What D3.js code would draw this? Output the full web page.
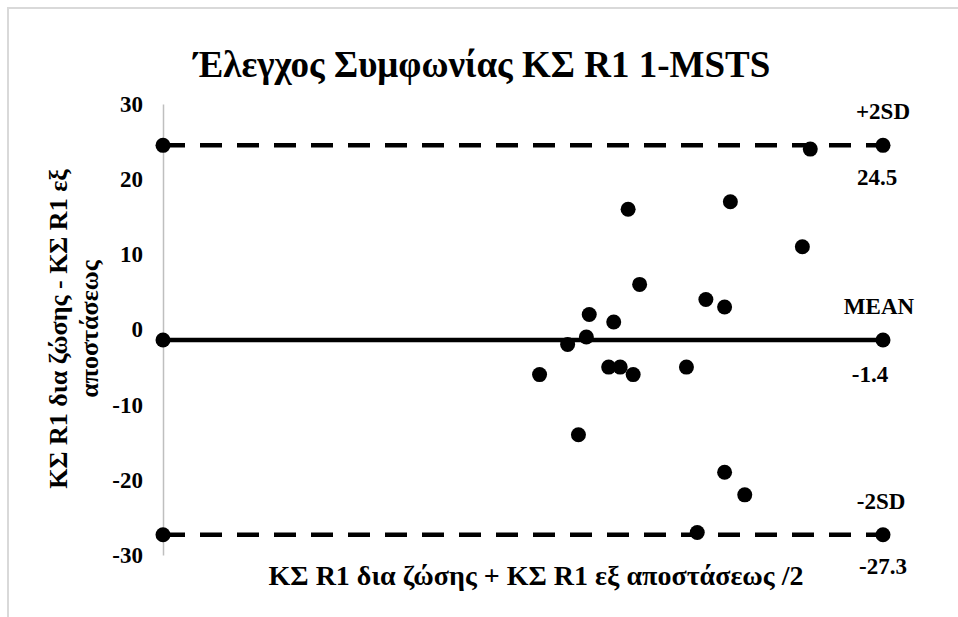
<!DOCTYPE html>
<html>
<head>
<meta charset="utf-8">
<script src="https://cdn.jsdelivr.net/npm/d3@7/dist/d3.min.js"></script>
<style>
  html, body { margin: 0; padding: 0; background: #fff; }
  svg text { font-family: "Liberation Serif", "Times New Roman", serif; font-weight: bold; fill: #000; }
</style>
</head>
<body>
<svg id="chart" width="958" height="617"></svg>
<script>
// ---- data ----
const title = "Έλεγχος Συμφωνίας ΚΣ R1 1-MSTS";
const xTitle = "ΚΣ R1 δια ζώσης + ΚΣ R1 εξ αποστάσεως /2";
const yTitleLines = ["ΚΣ R1 δια ζώσης - ΚΣ R1 εξ", "αποστάσεως"];
const meanValues = [52.3, 56.2, 57.7, 58.8, 59.2, 61.9, 62.6, 63.5, 64.6, 65.3, 66.2, 72.7, 74.2, 75.4, 78.0, 78.0, 78.8, 80.8, 88.8, 89.9];
const diffValues = [-6, -2, -14, -1, 2, -5, 1, -5, 16, -6, 6, -5, -27, 4, 3, -19, 17, -22, 11, 24];
const limitNames = ["+2SD", "MEAN", "-2SD"];
const limitValues = [24.5, -1.4, -27.3];
const limitLabels = ["24.5", "-1.4", "-27.3"];
const lineXRange = [0, 100];
const yTicks = [-30, -20, -10, 0, 10, 20, 30];

// ---- layout ----
const FONT = "'Liberation Serif', 'Times New Roman', serif";
const svg = d3.select("#chart");
const x = d3.scaleLinear().domain([0, 100]).range([163, 883]);
const y = d3.scaleLinear().domain([-30, 30]).range([555, 104]);

// outer border
svg.append("rect").attr("x", 8).attr("y", 8).attr("width", 960).attr("height", 620)
  .attr("fill", "none").attr("stroke", "#d9d9d9").attr("stroke-width", 2);

// title
svg.append("text").attr("x", 482).attr("y", 77).attr("text-anchor", "middle")
  .style("font-size", "37px").text(title);

// y axis
const yAxis = svg.append("g").attr("transform", `translate(${x(0)},0)`)
  .call(d3.axisLeft(y).tickValues(yTicks).tickSize(0).tickPadding(20).tickFormat(d => String(d)));
yAxis.select(".domain").attr("stroke", "#bfbfbf").attr("stroke-width", 1.5);
yAxis.selectAll(".tick text").style("font-size", "23px")
  .style("font-family", FONT).style("font-weight", "bold").attr("fill", "#000");

// y title
const yt = svg.append("text").attr("text-anchor", "middle").style("font-size", "26px");
yt.selectAll("tspan").data(yTitleLines).join("tspan")
  .attr("x", -329).attr("y", (d, i) => 67 + i * 31).text(d => d);
yt.attr("transform", "rotate(-90)");

// x title
svg.append("text").attr("x", 536).attr("y", 585).attr("text-anchor", "middle")
  .style("font-size", "28px").text(xTitle);

// limit lines
const dashes = ["22,15", null, "22,15"];
limitValues.forEach((v, i) => {
  svg.append("line")
    .attr("x1", x(lineXRange[0])).attr("x2", x(lineXRange[1]))
    .attr("y1", y(v)).attr("y2", y(v))
    .attr("stroke", "#000").attr("stroke-width", 4.5)
    .attr("stroke-dasharray", dashes[i]);
  lineXRange.forEach(xv => {
    svg.append("circle").attr("cx", x(xv)).attr("cy", y(v)).attr("r", 7.5).attr("fill", "#000");
  });
});

// limit labels
const nameOffsets = [[0, -26], [-4, -26], [-2, -26]];
const valueOffsets = [[-6, 40], [-13, 42], [0, 39]];
limitValues.forEach((v, i) => {
  svg.append("text").attr("x", x(100) + nameOffsets[i][0]).attr("y", y(v) + nameOffsets[i][1])
    .attr("text-anchor", "middle").style("font-size", "23px").text(limitNames[i]);
  svg.append("text").attr("x", x(100) + valueOffsets[i][0]).attr("y", y(v) + valueOffsets[i][1])
    .attr("text-anchor", "middle").style("font-size", "23px").text(limitLabels[i]);
});

// points
svg.append("g").selectAll("circle").data(meanValues.map((m, i) => [m, diffValues[i]]))
  .join("circle").attr("cx", d => x(d[0])).attr("cy", d => y(d[1])).attr("r", 7.5).attr("fill", "#000");
</script>
</body>
</html>
